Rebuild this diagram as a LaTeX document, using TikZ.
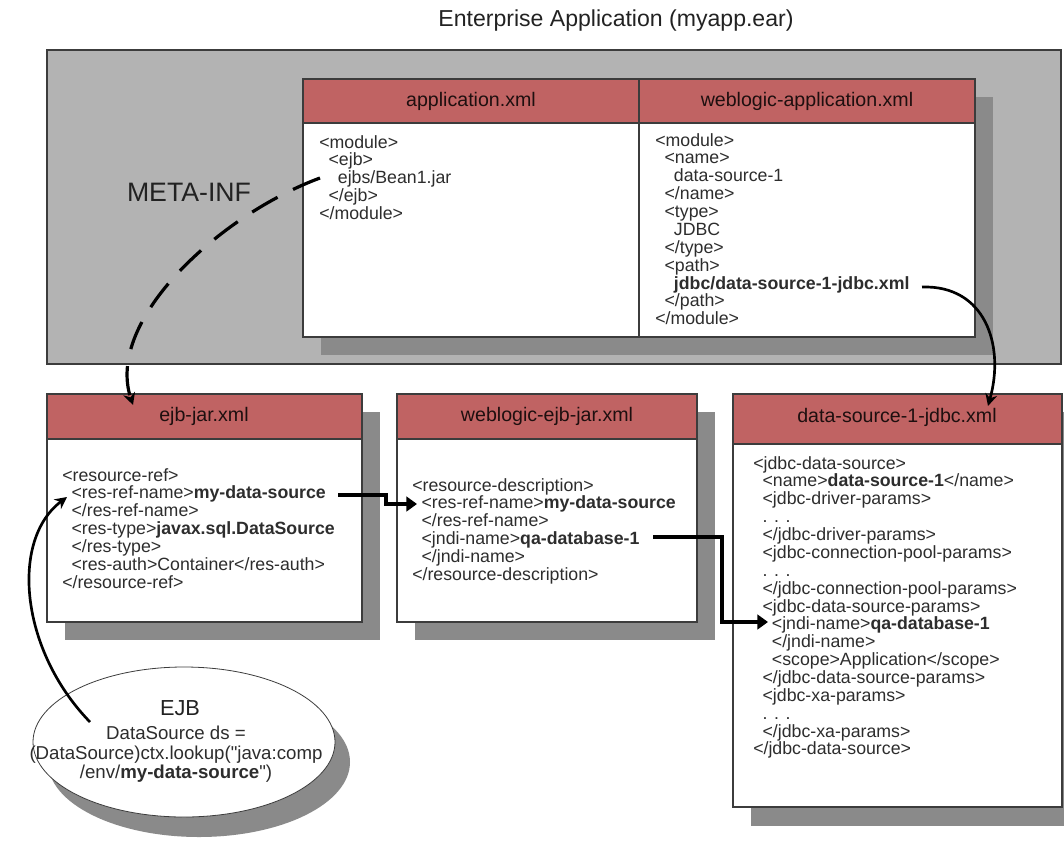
\documentclass[tikz,border=0pt]{standalone}
\usepackage{fontspec}
\setmainfont{Liberation Sans}[Ligatures=TeXOff]
\usetikzlibrary{arrows.meta}

\newcommand{\ind}{\hspace*{7pt}}

\begin{document}
\begin{tikzpicture}[x=0.75pt,y=0.75pt,yscale=-1,xscale=1,
    frame/.style={draw={rgb, 255:red, 60; green, 60; blue, 60 },line width=0.9pt},
    header/.style={frame,fill={rgb, 255:red, 192; green, 99; blue, 99 }},
    sheet/.style={frame,fill=white},
    shade/.style={fill={rgb, 255:red, 138; green, 138; blue, 138 }},
    code/.style={anchor=north west,inner sep=0pt,align=left,font=\fontsize{13.3}{13.4}\selectfont,text={rgb, 255:red, 45; green, 45; blue, 45 }},
    caption/.style={inner sep=0pt,font=\fontsize{14.7}{16}\selectfont,text={rgb, 255:red, 30; green, 15; blue, 15 }},
    link/.style={line width=2pt,-{Stealth[length=9pt,width=9pt]}},
    hop/.style={line width=2.6pt,-{Triangle[length=8pt,width=11pt]}}]
            \useasboundingbox (0,0) rectangle (1064,854);

            % Text Node
            \node [inner sep=0pt,font=\fontsize{17.3}{20}\selectfont,text={rgb, 255:red, 34; green, 34; blue, 34 }] (eartitle) at (616,21) {Enterprise Application (myapp.ear)};

            %Shape: Rectangle [ear]
            \draw [frame,fill={rgb, 255:red, 179; green, 179; blue, 179 }] (47,50) rectangle (1061,364);
            % Text Node
            \node [inner sep=0pt,font=\fontsize{20}{24}\selectfont,text={rgb, 255:red, 34; green, 34; blue, 34 }] (metainf) at (189,192) {META-INF};

            %Shape: Table [application.xml | weblogic-application.xml]
            \fill [shade] (321,97) rectangle (993,355);
            \draw [header] (303,79) rectangle (975,123);
            \draw [sheet] (303,123) rectangle (975,337);
            \draw [frame] (639,79) -- (639,337);
            \node [caption] (appxml) at (471,101) {application.xml};
            \node [caption] (wlappxml) at (807,101) {weblogic-application.xml};
            \node [code] (appbody) at (319,135) {<module>\\\ind<ejb>\\\ind\ind ejbs/Bean1.jar\\\ind</ejb>\\</module>};
            \node [code] (wlappbody) at (655,133) {<module>\\\ind<name>\\\ind\ind data-source-1\\\ind</name>\\\ind<type>\\\ind\ind JDBC\\\ind</type>\\\ind<path>\\\ind\ind\textbf{jdbc/data-source-1-jdbc.xml}\\\ind</path>\\</module>};

            %Shape: Box [ejb-jar.xml]
            \fill [shade] (65,412) rectangle (380,640);
            \draw [header] (47,394) rectangle (362,439);
            \draw [sheet] (47,439) rectangle (362,622);
            \node [caption] (ejbjar) at (204,416) {ejb-jar.xml};
            \node [code] (ejbjarbody) at (62,468) {<resource-ref>\\\ind<res-ref-name>\textbf{my-data-source}\\\ind</res-ref-name>\\\ind<res-type>\textbf{javax.sql.DataSource}\\\ind</res-type>\\\ind<res-auth>Container</res-auth>\\</resource-ref>};

            %Shape: Box [weblogic-ejb-jar.xml]
            \fill [shade] (415,412) rectangle (715,640);
            \draw [header] (397,394) rectangle (697,439);
            \draw [sheet] (397,439) rectangle (697,622);
            \node [caption] (wlejbjar) at (547,416) {weblogic-ejb-jar.xml};
            \node [code] (wlejbjarbody) at (412,478) {<resource-description>\\\ind<res-ref-name>\textbf{my-data-source}\\\ind</res-ref-name>\\\ind<jndi-name>\textbf{qa-database-1}\\\ind</jndi-name>\\</resource-description>};

            %Shape: Box [data-source-1-jdbc.xml]
            \fill [shade] (751,412) rectangle (1080,826);
            \draw [header] (733,394) rectangle (1062,444);
            \draw [sheet] (733,444) rectangle (1062,807);
            \node [caption] (dsjdbc) at (897,417) {data-source-1-jdbc.xml};
            \node [code] (dsjdbcbody) at (753,456) {<jdbc-data-source>\\\ind<name>\textbf{data-source-1}</name>\\\ind<jdbc-driver-params>\\\ind. . .\\\ind</jdbc-driver-params>\\\ind<jdbc-connection-pool-params>\\\ind. . .\\\ind</jdbc-connection-pool-params>\\\ind<jdbc-data-source-params>\\\ind\ind<jndi-name>\textbf{qa-database-1}\\\ind\ind</jndi-name>\\\ind\ind<scope>Application</scope>\\\ind</jdbc-data-source-params>\\\ind<jdbc-xa-params>\\\ind. . .\\\ind</jdbc-xa-params>\\</jdbc-data-source>};

            %Shape: Ellipse [EJB]
            \fill [shade] (199,762) ellipse [x radius=151, y radius=75];
            \draw [frame,line width=0.6pt,fill=white] (184,742) ellipse [x radius=151, y radius=75];
            \node [inner sep=0pt,font=\fontsize{16.3}{18}\selectfont,text={rgb, 255:red, 34; green, 34; blue, 34 }] (ejbtitle) at (180,708) {EJB};
            \node [anchor=north,inner sep=0pt,align=center,font=\fontsize{14}{14.6}\selectfont,text={rgb, 255:red, 45; green, 45; blue, 45 }] (ejblookup) at (176,726) {DataSource ds =\\(DataSource)ctx.lookup("java:comp\\/env/\textbf{my-data-source}")};

            % Connectors
            \coordinate (beanref) at (320,178);
            \coordinate (ejbhead) at (133,405);
            \coordinate (pathref) at (922,287);
            \coordinate (dshead) at (988,406);
            \coordinate (mydsout) at (338,495);
            \coordinate (mydsin) at (417,504);
            \coordinate (qaout) at (653,537);
            \coordinate (qain) at (768,622);
            \coordinate (lookup) at (90,722);
            \coordinate (resref) at (67,497);
            \draw [link,line width=2.4pt,dash pattern=on 22pt off 13pt] (beanref) .. controls (220,215) and (105,320) .. (ejbhead);
            \draw [link] (pathref) .. controls (985,285) and (1005,345) .. (dshead);
            \draw [hop] (mydsout) -- ++(48,0) |- (mydsin);
            \draw [hop] (qaout) -- ++(69,0) |- (qain);
            \draw [link] (lookup) .. controls (20,650) and (10,540) .. (resref);
\end{tikzpicture}
\end{document}
